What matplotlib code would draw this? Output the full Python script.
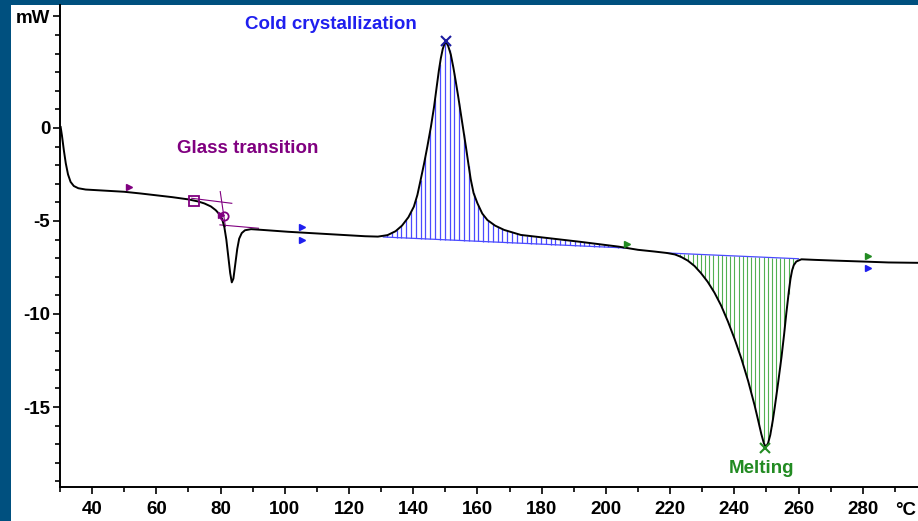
import numpy as np
import matplotlib.pyplot as plt
from matplotlib.patches import Rectangle

# DSC curve (temperature in degC, heat flow in mW)
temp = [30.2, 30.6, 31.2, 31.8, 32.5, 33.3, 34.3, 35.7, 38, 40, 45, 50, 55, 60, 65,
        70, 73, 75, 77, 78.5, 79.7, 80.5, 81.2, 81.8, 82.4, 83.0, 83.5, 84.0, 84.6,
        85.2, 85.8, 86.6, 87.6, 89.5, 93, 97, 101, 105, 110, 115, 120, 125, 129,
        132, 134.5, 136.5, 138.5, 140.2, 141.3, 142.3, 143.4, 144.4, 145.5, 146.5,
        147.3, 148.0, 148.6, 149.2, 149.8, 150.3, 150.9, 151.7, 152.5, 153.2, 154.0,
        154.8, 155.6, 156.4, 157.2, 157.9, 158.8, 160, 161.5, 163.1, 165.5, 168.3,
        173.5, 180, 186, 192, 198, 204, 210, 215, 219, 221.5, 223.4, 225.5, 227.6,
        229.6, 231.7, 233.8, 235.9, 238, 240.1, 242.2, 244.3, 246.3, 247.4, 248.4,
        249.2, 249.8, 250.5, 251.2, 252.0, 252.6, 253.6, 254.7, 255.5, 256.2, 257.0,
        257.5, 258.0, 258.5, 259.3, 260.9, 265, 271.3, 280, 288, 297.5]
heat = [0.05, -0.4, -1.2, -1.9, -2.5, -2.9, -3.12, -3.24, -3.31, -3.33, -3.38, -3.43,
        -3.52, -3.62, -3.72, -3.84, -3.95, -4.06, -4.22, -4.42, -4.65, -4.9, -5.35,
        -6.0, -6.9, -7.8, -8.3, -8.1, -7.3, -6.5, -5.95, -5.65, -5.5, -5.44, -5.48,
        -5.53, -5.58, -5.62, -5.67, -5.72, -5.77, -5.82, -5.84, -5.76, -5.55, -5.25,
        -4.8, -4.23, -3.6, -2.8, -1.9, -1.0, 0.05, 1.15, 2.2, 3.1, 3.75, 4.25, 4.55,
        4.6, 4.4, 3.95, 3.25, 2.55, 1.7, 0.8, -0.1, -1.0, -1.95, -2.75, -3.5, -4.05,
        -4.6, -4.95, -5.25, -5.48, -5.75, -5.88, -6.0, -6.12, -6.25, -6.38, -6.55,
        -6.64, -6.72, -6.8, -6.93, -7.13, -7.42, -7.8, -8.27, -8.85, -9.55, -10.4,
        -11.35, -12.4, -13.6, -14.9, -15.7, -16.45, -16.95, -17.15, -16.95, -16.5,
        -15.7, -15.0, -13.75, -12.3, -11.1, -9.95, -8.75, -8.1, -7.65, -7.38, -7.18,
        -7.06, -7.09, -7.13, -7.18, -7.23, -7.25]

# integration baselines
cryst_base_t = [130.7, 206.0]
cryst_base_y = [-5.86, -6.45]
melt_base_t = [219.0, 260.0]
melt_base_y = [-6.72, -7.03]

# glass transition construction lines (start, end)
tg_upper = ([71.0, 83.5], [-3.78, -4.05])
tg_lower = ([79.8, 91.8], [-5.21, -5.39])
tg_vert = ([79.9, 81.5], [-3.42, -5.3])
tg_onset = (71.6, -3.93)
tg_mid = (81.0, -4.72)

peak_cryst = (150.1, 4.65)
peak_melt = (249.6, -17.2)

# small limit flags
flag_t = [51.5, 105.4, 105.4, 206.6, 281.7, 281.7]
flag_y = [-3.17, -5.32, -6.02, -6.24, -6.88, -7.53]
flag_c = ['#800080', '#1f1fef', '#1f1fef', '#228b22', '#228b22', '#1f1fef']

purple = '#800080'
blue = '#1f1fef'
green = '#228b22'

plt.rcParams['font.family'] = ['Liberation Sans', 'DejaVu Sans']
plt.rcParams['font.weight'] = 'bold'

fig = plt.figure(figsize=(9.18, 5.21), dpi=100, facecolor='#00507f')
fig.patches.append(Rectangle((11 / 918, 0), 1, 1 - 5 / 521, transform=fig.transFigure,
                             facecolor='white', edgecolor='none', zorder=-1))
ax = fig.add_axes([60 / 918, 34 / 521, 1 - 60 / 918, (487 - 5) / 521])
ax.set_facecolor('white')

# hatching for the two integrated peaks
hx = np.arange(131.8, 206, 1.5)
top = np.interp(hx, temp, heat)
base = np.interp(hx, cryst_base_t, cryst_base_y)
ok = top > base
ax.vlines(hx[ok], base[ok], top[ok], color='#4a4aff', lw=0.9)
ax.plot(cryst_base_t, cryst_base_y, color='#4a4aff', lw=0.9)

hx = np.arange(220.5, 260, 1.3)
bot = np.interp(hx, temp, heat)
base = np.interp(hx, melt_base_t, melt_base_y)
ok = bot < base
ax.vlines(hx[ok], bot[ok], base[ok], color='#52b052', lw=0.8)
ax.plot(melt_base_t, melt_base_y, color='#4a4aff', lw=0.9)

# glass transition lines
for xs, ys in (tg_upper, tg_lower, tg_vert):
    ax.plot(xs, ys, color=purple, lw=0.8)

ax.plot(temp, heat, color='black', lw=1.4, zorder=3)

ax.plot(*tg_onset, marker='s', ms=7, mfc='none', mec=purple, mew=1.3, zorder=4)
ax.plot(*tg_mid, marker='o', ms=6, mfc='none', mec=purple, mew=1.3, zorder=4)
ax.plot(tg_mid[0] - 0.8, tg_mid[1] + 0.05, marker='>', ms=4, color=purple, zorder=4)
ax.plot(*peak_cryst, marker='x', ms=7, mew=1.5, color='#1a1aa0', zorder=4)
ax.plot(*peak_melt, marker='x', ms=7, mew=1.5, color=green, zorder=4)
for t, y, c in zip(flag_t, flag_y, flag_c):
    ax.plot(t, y, marker='>', ms=4.5, color=c, zorder=4)

ax.text(114.4, 5.3, 'Cold crystallization', color=blue, fontsize=13.5, ha='center', va='baseline')
ax.text(88.4, -1.34, 'Glass transition', color=purple, fontsize=13.5, ha='center', va='baseline')
ax.text(248.5, -18.55, 'Melting', color=green, fontsize=13.5, ha='center', va='baseline')

ax.set_xlim(30, 297.2)
ax.set_ylim(-19.3, 6.61)
ax.set_xticks(range(40, 281, 20))
ax.set_xticks(range(30, 297, 10), minor=True)
ax.set_yticks([-15, -10, -5, 0, 6])
ax.set_yticklabels(['-15', '-10', '-5', '0', 'mW'])
ax.set_yticks(range(-19, 7), minor=True)
ax.tick_params(which='major', length=5, width=1.2, labelsize=13.5, pad=2)
ax.tick_params(axis='x', which='major', pad=5)
ax.tick_params(which='minor', length=3.5, width=1.2)
for s in ('top', 'right'):
    ax.spines[s].set_visible(False)
for s in ('left', 'bottom'):
    ax.spines[s].set_linewidth(1.4)

ax.annotate('°C', xy=(290.2, 0), xycoords=('data', 'axes fraction'), xytext=(0, -10.5),
            textcoords='offset points', ha='left', va='top', fontsize=13.5, annotation_clip=False)

fig.savefig('out.png', dpi=100, facecolor=fig.get_facecolor())
